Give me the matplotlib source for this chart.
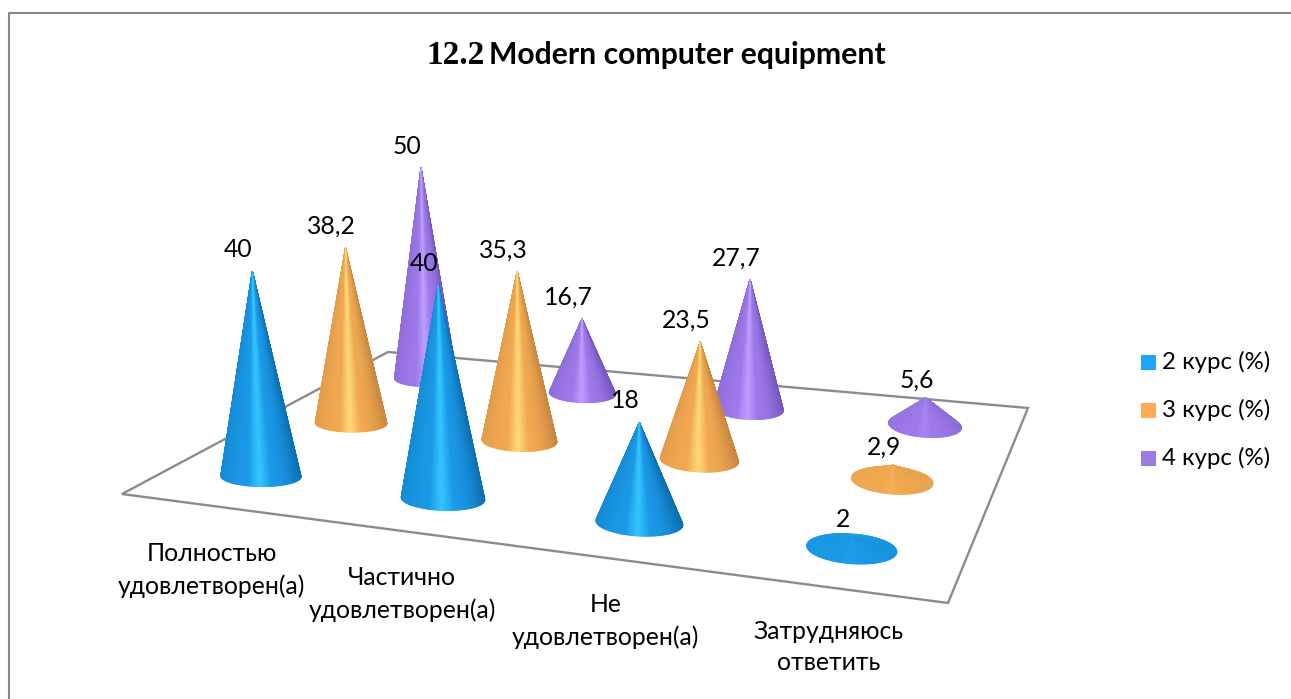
import numpy as np
import matplotlib
matplotlib.use("Agg")
import matplotlib.pyplot as plt
from matplotlib.collections import PolyCollection
from matplotlib.colors import to_rgb
from matplotlib.patches import Polygon, Rectangle

categories = ["Полностью\nудовлетворен(а)", "Частично\nудовлетворен(а)",
              "Не\nудовлетворен(а)", "Затрудняюсь\nответить"]
series_names = ["2 курс (%)", "3 курс (%)", "4 курс (%)"]
kurs2 = [40, 40, 18, 2]
kurs3 = [38.2, 35.3, 23.5, 2.9]
kurs4 = [50, 16.7, 27.7, 5.6]
value_labels2 = ["40", "40", "18", "2"]
value_labels3 = ["38,2", "35,3", "23,5", "2,9"]
value_labels4 = ["50", "16,7", "27,7", "5,6"]

# colour ramps: dark edge, mid, highlight
ramps = [("#0C6FB2", "#1A98E6", "#33C4FF"),
         ("#C8873F", "#F0A850", "#FFD678"),
         ("#7657BE", "#9C78E8", "#BD9CFF")]
legend_colors = ["#1CA4FF", "#FFAB5A", "#9A7BDF"]
LABEL_FONT = ["Lato", "Noto Sans"]

W, H = 1291, 699
fig = plt.figure(figsize=(W / 100, H / 100), dpi=100)
ax = fig.add_axes([0, 0, 1, 1])
ax.set_xlim(0, W)
ax.set_ylim(H, 0)
ax.axis("off")

# chart frame (left and top edges only are in view)
ax.plot([8.5, 8.5, W], [H, 12.5, 12.5], color="#868686", lw=1.5)

# floor plane: projective map from (u along categories, v along series)
floor = np.array([[122, 494], [948, 603], [1028, 408], [388, 352]], float)
ax.add_patch(Polygon(floor, closed=True, fc="white", ec="#8C8C8C", lw=1.7, zorder=1))


def homography(q):
    A, b = [], []
    for (u, v), (x, y) in zip([(0, 0), (1, 0), (1, 1), (0, 1)], q):
        A.append([u, v, 1, 0, 0, 0, -u * x, -v * x]); b.append(x)
        A.append([0, 0, 0, u, v, 1, -u * y, -v * y]); b.append(y)
    return np.append(np.linalg.solve(np.array(A), np.array(b)), 1).reshape(3, 3)


M = homography(floor)


def project(u, v):
    p = M @ np.array([u, v, 1.0])
    return p[:2] / p[2]


def shade(t, flat, ramp):
    dark, mid, hi = (np.array(to_rgb(c)) for c in ramp)
    a = abs(t)
    if a < 0.3:
        col = hi + (mid - hi) * a / 0.3
    else:
        edge = dark if t > 0 else mid + 0.35 * (dark - mid)
        col = mid + (edge - mid) * ((a - 0.3) / 0.7) ** 2
    return col * (1 - flat) + mid * flat


series = [kurs2, kurs3, kurs4]
labels = [value_labels2, value_labels3, value_labels4]
row_scale = [0.128, 0.128, 0.134]
PHI = np.linspace(0, 2 * np.pi, 145)
cones = [(j, i) for j in range(2, -1, -1) for i in range(4)]

z = 2
for j, i in cones:
    value = series[j][i]
    u = (i + 0.5) / 4
    u = u + 0.036 * u * (1 - u)
    v = (j + 0.5) / 3 - 0.008
    c = project(u, v)
    rx = (40 - 4.3 * j) + 1.7 * i
    ry = rx * (0.24 + 0.10 * u)
    tilt = np.radians(5 * u)
    height = value * row_scale[j] * rx
    slope = (c[0] - 641) * 1.1e-4
    tip = c + height * np.array([slope, -1.0])
    ex = rx * np.cos(PHI)
    ey = ry * np.sin(PHI)
    pts = np.c_[c[0] + ex * np.cos(tilt) - ey * np.sin(tilt),
                c[1] + ex * np.sin(tilt) + ey * np.cos(tilt)]
    flat = float(np.clip(1.0 - height / (2.2 * rx), 0, 0.9))
    tris, cols = [], []
    order = np.argsort(np.sin(PHI[:-1]))  # back (top) of the cone first
    for k in order:
        tris.append([tip, pts[k], pts[k + 1]])
        cols.append(shade(np.cos(PHI[k]), flat, ramps[j]))
    ax.add_collection(PolyCollection(tris, facecolors=cols, edgecolors=cols,
                                     linewidths=0.8, zorder=z))
    z += 1
    off = (-14, -22) if value > 10 else (-9, -18)
    ax.text(tip[0] + off[0], tip[1] + off[1], labels[j][i], ha="center", va="center",
            fontsize=17.8, family=LABEL_FONT, color="black", zorder=50)

# category labels
cat_pos = [(211.5, 570), (402, 594), (605.5, 621), (829, 647)]
for name, (x, y) in zip(categories, cat_pos):
    ax.text(x, y, name, ha="center", va="center", fontsize=17.8, family=LABEL_FONT,
            linespacing=1.47, zorder=50)

# legend
for name, col, y in zip(series_names, legend_colors, [362, 410, 458]):
    ax.add_patch(Rectangle((1141, y - 7.5), 15, 15, fc=col, ec="none"))
    ax.text(1162, y, name, ha="left", va="center", fontsize=17.3, family=LABEL_FONT)

# title
ax.text(426, 55, "12.2", ha="left", va="center", fontsize=24, weight="bold",
        family="Liberation Serif")
ax.text(489, 55, "Modern computer equipment", ha="left", va="center", fontsize=21.7,
        weight="bold", family="Lato")

fig.savefig("out.png", dpi=100, facecolor="white")
